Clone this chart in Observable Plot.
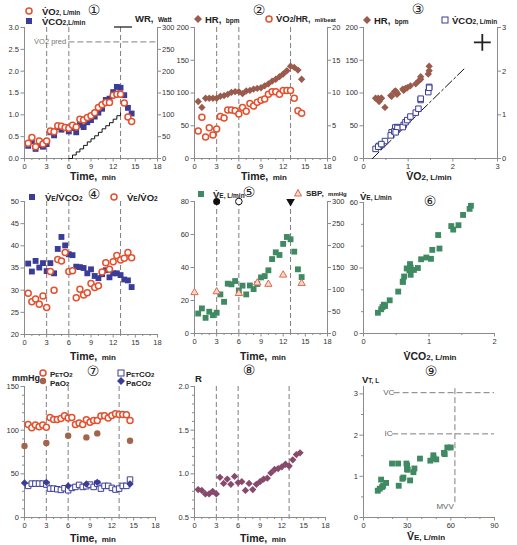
<!DOCTYPE html>
<html><head><meta charset="utf-8">
<script src="https://cdn.jsdelivr.net/npm/d3@7"></script>
<script src="https://cdn.jsdelivr.net/npm/@observablehq/plot@0.6"></script>
<style>
body{margin:0;background:#fff;}
#wrap{position:relative;width:517px;height:545px;overflow:hidden;background:#fff;font-family:"Liberation Sans",Arial,sans-serif;color:#222;}
.t{position:absolute;white-space:nowrap;line-height:1;}
.b{font-size:9.5px;font-weight:bold;}
.u{font-size:6.5px;font-weight:bold;}
.ti{font-size:10.5px;font-weight:bold;}
.tu{font-size:8px;font-weight:bold;}
.num{font-family:"DejaVu Sans",sans-serif;font-size:14px;color:#222;}
</style></head><body><div id="wrap"></div><script>
// ---------- data ----------
const time = [0.5,1,1.5,2,2.5,3,3.5,4,4.5,5,5.5,6,6.5,7,7.5,8,8.5,9,9.5,10,10.5,11,11.5,12,12.5,13,13.5,14,14.5];
const vo2  = [0.35,0.48,0.27,0.40,0.33,0.40,0.63,0.61,0.75,0.74,0.71,0.69,0.76,0.72,0.90,0.88,0.94,0.98,1.05,1.17,1.23,1.28,1.28,1.45,1.47,1.47,1.27,0.95,0.85];
const vco2 = [0.29,0.40,0.22,0.31,0.27,0.33,0.60,0.53,0.72,0.66,0.71,0.62,0.70,0.60,0.77,0.72,0.83,0.88,0.96,1.05,1.14,1.34,1.37,1.52,1.64,1.62,1.45,1.16,1.03];
const wrTime = [6,6.5,7,7.5,8,8.5,9,9.5,10,10.5,11,11.5,12,12.5,13];
const wrWatt = [0,8,15,22,30,38,45,52,60,68,75,82,90,98,105];
const vo2Pred = 2.67;
const hr = [87,78,92,92,92,92,95,96,98,101,102,102,99,103,104,106,107,108,111,114,118,121,125,129,134,141,139,135,121];
const o2pulse = [4.2,6.3,3.3,4.7,3.6,4.5,6.4,6.2,7.4,7.4,7.3,6.8,7.8,7.2,8.4,8.0,8.6,8.9,9.1,9.8,10.2,10.2,9.8,10.4,10.4,10.4,9.2,7.3,6.9];
const slopeLineVo2 = [0.2,2.27];
const slopeLineVco2 = [0,2.07];
const veVco2 = [36.0,34.2,36.6,35.1,36.1,34.3,36.1,33.8,39.3,42.0,40.1,38.1,37.9,35.3,35.2,35.0,33.8,34.7,33.2,32.7,33.6,34.5,32.9,33.8,33.8,33.4,32.4,32.2,30.7];
const veVo2  = [29.3,27.4,28.0,26.8,28.7,26.1,34.2,30.0,36.9,36.6,38.5,34.2,34.4,28.3,30.2,28.9,29.4,31.5,30.6,31.0,34.1,36.2,34.7,36.4,37.8,36.8,37.2,38.5,37.3];
const ve = [12.1,15.2,9.5,13.2,11.1,12.6,23.7,19.2,30.2,29.8,31.8,26.1,29.0,23.7,29.1,26.9,30.0,34.0,34.8,38.3,45.1,49.2,47.6,54.3,58.5,57.1,49.6,38.9,34.2];
const sbpTime = [0,3,6,8.5,10,12,14.5];
const sbp = [93,95,91,115,112,133,114];
const eventTime = [3,6,13];
const peto2 = [106.6,102.8,105.8,103.9,105.8,103.2,114.6,112.3,112.3,113.4,116.5,113.8,114.6,106.6,108.1,106.6,111.9,109.2,111.2,111.2,116.1,116.5,113.8,116.9,118.8,118.0,118.0,117.6,111.2];
const petco2 = [36.2,38.8,38.8,38.8,38.8,37.7,33.1,33.1,32.4,31.6,33.5,31.2,33.9,35.0,37.3,35.0,35.8,37.7,35.0,38.8,33.1,36.2,36.2,33.9,32.0,33.1,36.2,36.2,43.4];
const gasTime = [0,3,6,8.5,10,14.5];
const pao2 = [81.8,85.3,93.6,91.7,96.3,87.9];
const paco2 = [39.6,40.3,36.2,38.4,40.3,38.4];
const rer = [0.82,0.81,0.77,0.77,0.80,0.77,0.96,0.89,0.94,0.88,0.97,0.90,0.91,0.81,0.89,0.82,0.88,0.91,0.94,0.95,1.01,1.05,1.06,1.08,1.11,1.09,1.16,1.22,1.24];
const ve9 = [9.8,11.2,12.1,12.8,13.5,15.5,19.6,23.8,24.2,26.7,27.4,29.5,29.9,30.0,30.4,32.0,34.3,35.0,38.8,45.9,48.0,48.2,50.0,55.3,55.8,57.6,59.9];
const vt9 = [0.65,0.70,0.92,0.74,0.77,0.84,1.31,1.31,0.77,0.94,0.97,1.31,1.17,1.26,1.16,0.90,1.10,1.19,1.43,1.38,1.51,1.44,1.41,1.57,1.54,1.70,1.70];
const vcLevel = 3.03, icLevel = 2.03, mvvLevel = 62.8;

// ---------- helpers ----------
const wrap = document.getElementById("wrap");
const grey = "#8c8c8c", tcol = "#333", dashCol = "#707070";
const cOrange = "#e4502e", cNavy = "#3a3c96", cBrown = "#9a5b4c", cGreen = "#3f8a62", cPlum = "#874a6c", cPaO2 = "#a3644c", cSbp = "#e0664c";
const f1 = d3.format(".1f");
const blank = () => "";

function axes(c) {
  const m = [
    Plot.ruleX([c.xd[0]], {stroke: grey}),
    Plot.ruleY([c.yd[0]], {stroke: grey})
  ];
  if (c.xMinor) m.push(Plot.axisX({ticks: c.xMinor, tickSize: 2, stroke: grey, tickFormat: blank, label: null}));
  m.push(Plot.axisX({ticks: c.xTicks, tickSize: 3.5, tickPadding: 2, stroke: grey, fill: tcol, fontSize: 7.5, tickFormat: c.xFmt || (d => d), label: null}));
  if (c.yMinor) m.push(Plot.axisY({ticks: c.yMinor, tickSize: 2, stroke: grey, tickFormat: blank, label: null}));
  m.push(Plot.axisY({ticks: c.yTicks, tickSize: 3.5, tickPadding: 2, stroke: grey, fill: tcol, fontSize: 7.5, tickFormat: c.yFmt || (d => d), label: null}));
  if (c.right) {
    m.push(Plot.ruleX([c.xd[1]], {stroke: grey}));
    m.push(Plot.axisY({anchor: "right", ticks: c.right.ticks, tickSize: 3, tickPadding: 1.5, stroke: grey, fill: tcol, fontSize: 7.5, tickFormat: c.right.fmt, label: null}));
  }
  return m;
}
function panel(c) {
  const svg = Plot.plot({
    width: c.w, height: c.h,
    marginLeft: c.ml, marginRight: c.mr, marginTop: c.mt, marginBottom: c.mb,
    x: {domain: c.xd}, y: {domain: c.yd},
    style: {background: "transparent", fontFamily: "Liberation Sans, Arial, sans-serif", fontSize: "7.5px", color: tcol, overflow: "visible"},
    marks: [...axes(c), ...c.marks]
  });
  svg.style.position = "absolute";
  svg.style.left = c.left + "px";
  svg.style.top = c.top + "px";
  svg.style.maxWidth = "none";
  wrap.appendChild(svg);
}
function text(x, y, html, anchor = "start", cls = "") {
  const d = document.createElement("div");
  d.className = "t " + cls;
  d.style.left = x + "px"; d.style.top = y + "px";
  d.style.transform = anchor === "middle" ? "translate(-50%,-50%)" : "translate(0,-50%)";
  d.innerHTML = html;
  wrap.appendChild(d);
}
const shapes = {
  openCircle: `<circle cx="6" cy="6" r="3" fill="#fff" stroke="${cOrange}" stroke-width="1.5"/>`,
  navySquare: `<rect x="3" y="3" width="6" height="6" fill="${cNavy}"/>`,
  openSquare: `<rect x="3" y="3" width="6" height="6" fill="#fff" stroke="${cNavy}" stroke-width="1"/>`,
  brownDiamond: `<path d="M6 2L10 6L6 10L2 6Z" fill="${cBrown}"/>`,
  navyDiamond: `<path d="M6 2L10 6L6 10L2 6Z" fill="${cNavy}"/>`,
  greenSquare: `<rect x="3" y="3" width="6" height="6" fill="${cGreen}"/>`,
  triangle: `<path d="M6 2.5L9.5 9H2.5Z" fill="#f7d9cc" stroke="${cSbp}" stroke-width="1"/>`,
  brownDot: `<circle cx="6" cy="6" r="3.2" fill="${cPaO2}"/>`
};
function marker(x, y, name) {
  const d = document.createElement("div");
  d.className = "t";
  d.style.left = (x - 6) + "px"; d.style.top = (y - 6) + "px";
  d.innerHTML = `<svg width="12" height="12">${shapes[name]}</svg>`;
  wrap.appendChild(d);
}
const dashRule = (xs) => Plot.ruleX(xs, {stroke: dashCol, strokeDasharray: "5,3", strokeWidth: 0.9});
const timeCfg = {xd: [0, 18], xTicks: [0,3,6,9,12,15,18], xMinor: [1,2,4,5,7,8,10,11,13,14,16,17]};

// ---------- panel 1 ----------
const k1 = 1 / 100;
panel({left: 0, top: 0, w: 172, h: 178, ml: 24, mr: 15, mt: 27, mb: 20, ...timeCfg,
  yd: [0, 3], yTicks: [0,0.5,1,1.5,2,2.5,3], yFmt: f1,
  right: {ticks: [0,0.5,1,1.5,2,2.5,3], fmt: d => Math.round(d / k1)},
  marks: [
    dashRule(eventTime),
    Plot.ruleY([vo2Pred], {x1: 6.0, x2: 18, stroke: dashCol, strokeDasharray: "6,3", strokeWidth: 0.9}),
    Plot.text(["V̇O2 pred"], {x: 1.3, y: vo2Pred, text: d => d, textAnchor: "start", fill: "#777", fontSize: 7.5}),
    Plot.line(wrTime, {x: wrTime, y: wrWatt.map(v => v * k1), curve: "step-after", stroke: "#111", strokeWidth: 1}),
    Plot.dot(time, {x: time, y: vco2, symbol: "square", r: 3.3, fill: cNavy}),
    Plot.dot(time, {x: time, y: vo2, r: 3, fill: "#fff", stroke: cOrange, strokeWidth: 1.5})
  ]});
marker(29, 10, "openCircle"); text(42, 10, `<span class="b">V̇O</span><span class="u">2, L/min</span>`);
marker(29, 20, "navySquare"); text(42, 20, `<span class="b">V̇CO</span><span class="u">2,L/min</span>`);
text(94, 10, "①", "middle", "num");
(() => { const d = document.createElement("div"); d.className = "t"; d.style.left = "114px"; d.style.top = "16px";
  d.innerHTML = `<svg width="18" height="3"><line x1="0" y1="1" x2="18" y2="1" stroke="#111" stroke-width="1.2"/></svg>`; wrap.appendChild(d); })();
text(135, 17, `<span class="b">WR,</span> <span class="u">Watt</span>`);
text(93, 175, `<span class="ti">Time,</span> <span class="tu">min</span>`, "middle");

// ---------- panel 2 ----------
const k2 = 10;
panel({left: 170, top: 0, w: 172, h: 178, ml: 24, mr: 15, mt: 27, mb: 20, ...timeCfg,
  yd: [0, 200], yTicks: [0,50,100,150,200],
  right: {ticks: [0,50,100,150,200], fmt: d => Math.round(d / k2)},
  marks: [
    dashRule(eventTime),
    Plot.dot(time, {x: time, y: hr, symbol: "diamond2", r: 3.3, fill: cBrown}),
    Plot.dot(time, {x: time, y: o2pulse.map(v => v * k2), r: 3, fill: "#fff", stroke: cOrange, strokeWidth: 1.5})
  ]});
marker(198, 18, "brownDiamond"); text(205, 18, `<span class="b">HR,</span> <span class="u">bpm</span>`);
marker(269, 18, "openCircle"); text(276, 17, `<span class="b">V̇O</span><span class="u">2</span><span class="b" style="font-size:8.5px">/HR,</span> <span class="u" style="font-size:6px">ml/beat</span>`);
text(259, 10, "②", "middle", "num");
text(264, 175, `<span class="ti">Time,</span> <span class="tu">min</span>`, "middle");

// ---------- panel 3 ----------
const k3 = 200 / 3;
const n3 = 26;
panel({left: 340, top: 0, w: 177, h: 178, ml: 23, mr: 20, mt: 27, mb: 20,
  xd: [0, 3], xTicks: [0,1,2,3], xMinor: [0.5,1.5,2.5],
  yd: [0, 200], yTicks: [0,50,100,150,200],
  right: {ticks: [0,1,2,3].map(v => v * k3), fmt: d => Math.round(d / k3)},
  marks: [
    Plot.line(slopeLineVo2, {x: slopeLineVo2, y: slopeLineVco2.map(v => v * k3), stroke: "#111", strokeWidth: 1, strokeDasharray: "9,3,2,3"}),
    Plot.dot(vo2.slice(0, n3), {x: vo2.slice(0, n3), y: hr.slice(0, n3), symbol: "diamond2", r: 3.3, fill: cBrown}),
    Plot.dot(vo2.slice(0, n3), {x: vo2.slice(0, n3), y: vco2.slice(0, n3).map(v => v * k3), symbol: "square", r: 3.1, fill: "#fff", stroke: cNavy, strokeWidth: 1}),
    Plot.dot([2.66], {x: [2.66], y: [2.66 * k3], symbol: "plus", r: 5.5, stroke: "#222", strokeWidth: 1.8})
  ]});
marker(367, 19, "brownDiamond"); text(374, 19, `<span class="b">HR,</span> <span class="u">bpm</span>`);
marker(445, 19, "openSquare"); text(452, 19, `<span class="b">V̇CO</span><span class="u">2, L/min</span>`);
text(418, 9, "③", "middle", "num");
text(429, 175, `<span class="ti">V̇O</span><span class="tu">2, L/min</span>`, "middle");

// ---------- panel 4 ----------
panel({left: 0, top: 175, w: 172, h: 178, ml: 24, mr: 15, mt: 26, mb: 19, ...timeCfg,
  yd: [20, 50], yTicks: [20,25,30,35,40,45,50],
  marks: [
    dashRule(eventTime),
    Plot.dot(time, {x: time, y: veVco2, symbol: "square", r: 3.3, fill: cNavy}),
    Plot.dot(time, {x: time, y: veVo2, r: 3, fill: "#fff", stroke: cOrange, strokeWidth: 1.5})
  ]});
marker(32, 196, "navySquare"); text(45, 196, `<span class="b">V̇</span><span class="u">E</span><span class="b">/V̇CO</span><span class="u">2</span>`);
marker(114, 196, "openCircle"); text(127, 196, `<span class="b">V̇</span><span class="u">E</span><span class="b">/V̇O</span><span class="u">2</span>`);
text(94, 194, "④", "middle", "num");
text(93, 355, `<span class="ti">Time,</span> <span class="tu">min</span>`, "middle");

// ---------- panel 5 ----------
const k5 = 80 / 300;
panel({left: 170, top: 175, w: 172, h: 178, ml: 24, mr: 15, mt: 26, mb: 20, ...timeCfg,
  yd: [0, 80], yTicks: [0,20,40,60,80],
  right: {ticks: [0,50,100,150,200,250,300].map(v => v * k5), fmt: d => Math.round(d / k5)},
  marks: [
    dashRule(eventTime),
    Plot.dot([eventTime[0]], {x: [eventTime[0]], y: [80], r: 3.5, fill: "#111"}),
    Plot.dot([eventTime[1]], {x: [eventTime[1]], y: [80], r: 3.3, fill: "#fff", stroke: "#111", strokeWidth: 1}),
    Plot.dot([eventTime[2]], {x: [eventTime[2]], y: [80], symbol: "triangle", r: 3.2, fill: "#111", rotate: 180}),
    Plot.dot(time, {x: time, y: ve, symbol: "square", r: 3.3, fill: cGreen}),
    Plot.dot(sbpTime, {x: sbpTime, y: sbp.map(v => v * k5), symbol: "triangle", r: 2.7, fill: "#f7d9cc", stroke: cSbp, strokeWidth: 1})
  ]});
marker(201, 193, "greenSquare"); text(213, 193, `<span class="b">V̇</span><span class="u">E, L/min</span>`);
marker(298, 192, "triangle"); text(306, 191, `<span class="b" style="font-size:8px">SBP,</span> <span class="u" style="font-size:6px">mmHg</span>`);
text(249, 192, "⑤", "middle", "num");
text(263, 355, `<span class="ti">Time,</span> <span class="tu">min</span>`, "middle");

// ---------- panel 6 ----------
panel({left: 340, top: 175, w: 177, h: 178, ml: 23, mr: 23, mt: 27, mb: 20,
  xd: [0, 2], xTicks: [0,1,2], xMinor: [0.5,1.5],
  yd: [0, 60], yTicks: [0,30,60], yMinor: [10,20,40,50],
  marks: [
    Plot.dot(vco2, {x: vco2, y: ve, symbol: "square", r: 3.3, fill: cGreen})
  ]});
text(360, 195, `<span class="b">V̇</span><span class="u">E, L/min</span>`);
text(430, 201, "⑥", "middle", "num");
text(430, 355, `<span class="ti">V̇CO</span><span class="tu">2, L/min</span>`, "middle");

// ---------- panel 7 ----------
panel({left: 0, top: 355, w: 172, h: 190, ml: 24, mr: 17, mt: 31, mb: 28, ...timeCfg,
  yd: [0, 150], yTicks: [0,50,100,150], yMinor: [10,20,30,40,60,70,80,90,110,120,130,140],
  marks: [
    dashRule(eventTime),
    Plot.dot(time, {x: time, y: peto2, r: 3, fill: "#fff", stroke: cOrange, strokeWidth: 1.5}),
    Plot.dot(gasTime, {x: gasTime, y: pao2, r: 3.2, fill: cPaO2}),
    Plot.dot(time, {x: time, y: petco2, symbol: "square", r: 3.1, fill: "#fff", stroke: cNavy, strokeWidth: 1}),
    Plot.dot(gasTime, {x: gasTime, y: paco2, symbol: "diamond2", r: 3.3, fill: cNavy})
  ]});
text(12, 376, `<span class="b" style="font-size:9px">mmHg</span>`);
marker(43, 372, "openCircle"); text(50, 372, `<span class="u" style="font-size:8px">P</span><span class="u" style="font-size:6px">ET</span><span class="u" style="font-size:8px">O</span><span class="u" style="font-size:6px">2</span>`);
marker(43, 380, "brownDot"); text(50, 381, `<span class="u" style="font-size:8px">PaO</span><span class="u" style="font-size:6px">2</span>`);
marker(121, 372, "openSquare"); text(126, 372, `<span class="u" style="font-size:8px">P</span><span class="u" style="font-size:6px">ET</span><span class="u" style="font-size:8px">CO</span><span class="u" style="font-size:6px">2</span>`);
marker(121, 380, "navyDiamond"); text(126, 381, `<span class="u" style="font-size:8px">PaCO</span><span class="u" style="font-size:6px">2</span>`);
text(93, 371, "⑦", "middle", "num");
text(93, 537, `<span class="ti">Time,</span> <span class="tu">min</span>`, "middle");

// ---------- panel 8 ----------
panel({left: 170, top: 355, w: 172, h: 190, ml: 24, mr: 17, mt: 31, mb: 28, ...timeCfg,
  yd: [0.5, 2], yTicks: [0.5,1,1.5,2], yFmt: f1, yMinor: [0.6,0.7,0.8,0.9,1.1,1.2,1.3,1.4,1.6,1.7,1.8,1.9],
  marks: [
    dashRule(eventTime),
    Plot.dot(time, {x: time, y: rer, symbol: "diamond2", r: 3.3, fill: cPlum})
  ]});
text(195, 377, `<span class="b">R</span>`);
text(249, 370, "⑧", "middle", "num");
text(263, 537, `<span class="ti">Time,</span> <span class="tu">min</span>`, "middle");

// ---------- panel 9 ----------
panel({left: 340, top: 355, w: 177, h: 190, ml: 23, mr: 23, mt: 31, mb: 28,
  xd: [0, 90], xTicks: [0,30,60,90], xMinor: [10,20,40,50,70,80],
  yd: [0, 3.18], yTicks: [0,1,2,3], yMinor: [0.5,1.5,2.5],
  marks: [
    Plot.ruleY([vcLevel], {x1: 21, x2: 90, stroke: dashCol, strokeDasharray: "6,3", strokeWidth: 0.9}),
    Plot.ruleY([icLevel], {x1: 20, x2: 90, stroke: dashCol, strokeDasharray: "6,3", strokeWidth: 0.9}),
    Plot.ruleX([mvvLevel], {y1: 0.36, y2: 3.18, stroke: dashCol, strokeDasharray: "6,3", strokeWidth: 0.9}),
    Plot.text(["VC"], {x: 13.5, y: vcLevel, text: d => d, textAnchor: "start", fill: "#666", fontSize: 8}),
    Plot.text(["IC"], {x: 14.5, y: icLevel, text: d => d, textAnchor: "start", fill: "#666", fontSize: 8}),
    Plot.text(["MVV"], {x: 62, y: 0.26, text: d => d, textAnchor: "end", fill: "#666", fontSize: 8}),
    Plot.dot(ve9, {x: ve9, y: vt9, symbol: "square", r: 3.3, fill: cGreen})
  ]});
text(362, 378, `<span class="b">V</span><span class="u">T, L</span>`);
text(431, 371, "⑨", "middle", "num");
text(426, 535, `<span class="ti">V̇</span><span class="tu">E, L/min</span>`, "middle");
</script></body></html>
